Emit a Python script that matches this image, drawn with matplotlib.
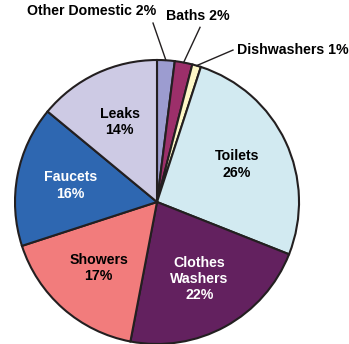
import numpy as np
import matplotlib
matplotlib.use("Agg")
import matplotlib.pyplot as plt

categories = ["Other Domestic", "Baths", "Dishwashers", "Toilets",
              "Clothes Washers", "Showers", "Faucets", "Leaks"]
values = [2, 2, 1, 26, 22, 17, 16, 14]
inner_names = ["", "", "", "Toilets", "Clothes\nWashers", "Showers", "Faucets", "Leaks"]
colors = ["#9c9cd0", "#9c2f6a", "#fdf7c6", "#d2eaf1", "#63215f",
          "#f27c7c", "#2e67b1", "#cdcae4"]
text_colors = ["k", "k", "k", "k", "white", "k", "white", "k"]

plt.rcParams['font.family'] = ['Liberation Sans', 'DejaVu Sans']
fig = plt.figure(figsize=(3.49, 3.44), dpi=100)
W, H = 349, 344
cx, cy, R = 157, 202, 142
ax = fig.add_axes([(cx - R) / W, (H - cy - R) / H, 2 * R / W, 2 * R / H])

wedges, _ = ax.pie(values, colors=colors, startangle=90, counterclock=False,
                   radius=1.0,
                   wedgeprops=dict(edgecolor="#231f20", linewidth=1.5))
ax.set_xlim(-1, 1)
ax.set_ylim(-1, 1)
ax.set_aspect('equal')
ax.axis('off')

total = sum(values)
cum = np.cumsum([0] + values)
mids = [90 - 360 * (cum[i] + values[i] / 2) / total for i in range(len(values))]

FS = 10.2
for i, name in enumerate(inner_names):
    if name:
        a = np.deg2rad(mids[i])
        ax.text(0.62 * np.cos(a), 0.62 * np.sin(a), f"{name}\n{values[i]}%",
                ha="center", va="center", fontsize=FS, fontweight="bold",
                color=text_colors[i], linespacing=1.2)

# outer labels with leader lines
outer = {0: ((-0.458, 1.345), (-0.028, 1.26), "center"),
         1: ((0.289, 1.31), (0.303, 1.23), "center"),
         2: ((0.565, 1.07), (0.535, 1.07), "left")}
for i, (tpos, lstart, ha) in outer.items():
    a = np.deg2rad(mids[i])
    ax.text(tpos[0], tpos[1], f"{categories[i]} {values[i]}%", ha=ha, va="center",
            fontsize=FS, fontweight="bold", clip_on=False)
    ax.plot([lstart[0], np.cos(a)], [lstart[1], np.sin(a)], color="#231f20",
            lw=1.0, clip_on=False)

for w in wedges:
    w.set_clip_on(False)

fig.savefig("out.png", dpi=100)
